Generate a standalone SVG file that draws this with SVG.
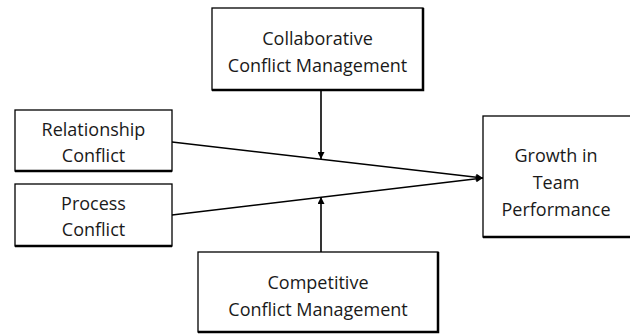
<svg xmlns="http://www.w3.org/2000/svg" width="630" height="334" viewBox="0 0 630 334">
<style>
.box{fill:#fff;stroke:#000;stroke-width:1.3}
.sh{fill:none;stroke:#000;stroke-width:2.5}
.t{font-family:"Open Sans","Liberation Sans",sans-serif;font-size:18px;fill:#1a1a1a;text-anchor:middle}
.c{stroke:#000;stroke-width:1.6;fill:none}
</style>
<defs>
<marker id="ah" viewBox="0 0 10 10" refX="10" refY="5" markerWidth="8" markerHeight="7" markerUnits="userSpaceOnUse" orient="auto">
<path d="M0,0 L10,5 L0,10 z" fill="#000"/>
</marker>
</defs>
<rect width="630" height="334" fill="#fff"/>
<g id="connectors">
<line class="c" x1="172" y1="142" x2="483" y2="178" marker-end="url(#ah)"/>
<line class="c" x1="172" y1="215" x2="483" y2="178" marker-end="url(#ah)"/>
<line class="c" x1="321" y1="90" x2="321" y2="159" marker-end="url(#ah)"/>
<line class="c" x1="321" y1="252" x2="321" y2="197" marker-end="url(#ah)"/>
</g>
<g id="collaborative">
<rect class="box" x="212" y="8" width="211" height="82"/>
<path class="sh" d="M212,90 H423 V8"/>
<text class="t" x="317.5" y="45">Collaborative</text>
<text class="t" x="317.5" y="72">Conflict Management</text>
</g>
<g id="relationship">
<rect class="box" x="15" y="110" width="157" height="61"/>
<path class="sh" d="M15,171 H172"/>
<text class="t" x="93.5" y="136">Relationship</text>
<text class="t" x="93.5" y="162">Conflict</text>
</g>
<g id="process">
<rect class="box" x="15" y="184" width="157" height="62"/>
<path class="sh" d="M15,246 H172"/>
<text class="t" x="93.5" y="210">Process</text>
<text class="t" x="93.5" y="236">Conflict</text>
</g>
<g id="growth">
<rect class="box" x="483" y="116" width="150" height="121"/>
<path class="sh" d="M483,237 H633"/>
<text class="t" x="556" y="162">Growth in</text>
<text class="t" x="556" y="189">Team</text>
<text class="t" x="556" y="216">Performance</text>
</g>
<g id="competitive">
<rect class="box" x="198" y="252" width="240" height="80"/>
<path class="sh" d="M198,332 H438 V252"/>
<text class="t" x="318" y="289">Competitive</text>
<text class="t" x="318" y="316">Conflict Management</text>
</g>
</svg>
